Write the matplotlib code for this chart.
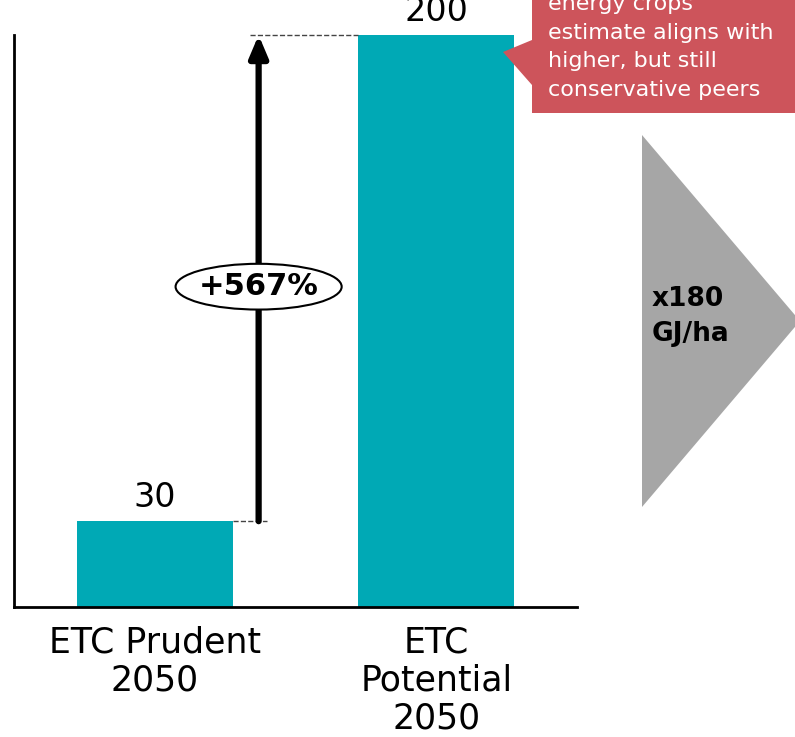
import matplotlib.pyplot as plt
from matplotlib.patches import Ellipse, Polygon

# data
categories = ['ETC Prudent\n2050', 'ETC\nPotential\n2050']
values = [30, 200]
change_label = '+567%'
callout_text = 'energy crops\nestimate aligns with\nhigher, but still\nconservative peers'
arrow_text = 'x180\nGJ/ha'

W, H = 795, 737
fig = plt.figure(figsize=(W / 100, H / 100), dpi=100)


def fx(x):
    return x / W


def fy(y):
    return 1 - y / H


ax = fig.add_axes([fx(14), fy(607), fx(577) - fx(14), fy(35) - fy(607)])
x = range(len(values))
ax.bar(x, values, width=0.555, color='#00A9B5')
ax.set_xlim(-0.5, 1.5)
ax.set_ylim(0, max(values))

for s in ['top', 'right']:
    ax.spines[s].set_visible(False)
for s in ['left', 'bottom']:
    ax.spines[s].set_linewidth(2)
ax.set_yticks([])
ax.set_xticks(list(x))
ax.set_xticklabels(categories, fontsize=25, linespacing=1.15)
ax.tick_params(axis='x', length=0, pad=13)

# value labels
for i, v in enumerate(values):
    ax.annotate(str(v), (i, v), xytext=(0, 5), textcoords='offset points',
                ha='center', va='bottom', fontsize=24, annotation_clip=False)

# growth arrow
ax_x = 0.369
ax.annotate('', xy=(ax_x, values[1]), xytext=(ax_x, values[0]),
            arrowprops=dict(arrowstyle='-|>,head_width=0.55,head_length=1.3',
                            lw=4.5, color='black', shrinkA=0, shrinkB=0))
ax.plot([0.2775, ax_x + 0.03], [values[0]] * 2, ls='--', lw=1, color='#444444',
        clip_on=False)
ax.plot([ax_x - 0.03, 1 - 0.2775], [values[1]] * 2, ls='--', lw=1, color='#444444',
        clip_on=False)
ell = Ellipse((ax_x, 112), width=0.59, height=16, facecolor='white',
              edgecolor='black', lw=1.5, zorder=3)
ax.add_patch(ell)
ax.text(ax_x, 112, change_label, ha='center', va='center', fontsize=22,
        fontweight='bold', zorder=4)

# callout box
box = Polygon([(fx(532), fy(-60)), (fx(820), fy(-60)), (fx(820), fy(113)),
               (fx(532), fy(113)), (fx(532), fy(85)), (fx(503), fy(52)),
               (fx(532), fy(40))],
              closed=True, facecolor='#CD545B', edgecolor='none',
              transform=fig.transFigure)
fig.add_artist(box)
fig.text(fx(548), fy(47), callout_text, ha='left', va='center', color='white',
         fontsize=16, linespacing=1.55)

# gray arrow shape
tri = Polygon([(fx(642), fy(135)), (fx(642), fy(507)), (fx(800), fy(321))],
              closed=True, facecolor='#A6A6A6', edgecolor='none',
              transform=fig.transFigure)
fig.add_artist(tri)
fig.text(fx(652), fy(316), arrow_text, ha='left', va='center', fontsize=19,
         fontweight='bold', linespacing=1.45, color='black')

plt.savefig('out.png', dpi=100)
